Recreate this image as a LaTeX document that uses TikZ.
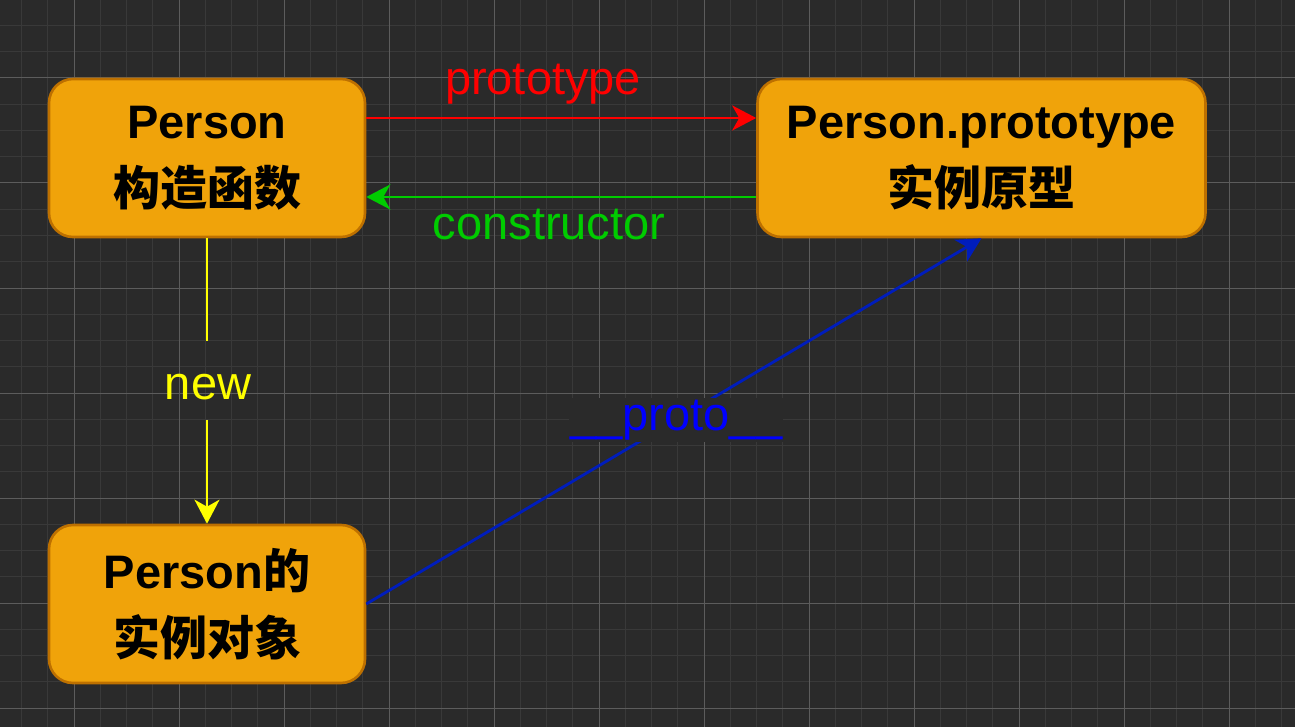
\documentclass[tikz,border=0pt]{standalone}
\usepackage{fontspec}
\setmainfont{Liberation Sans}
\newfontfamily\cjk{Noto Sans CJK SC}
\usetikzlibrary{arrows.meta}
\definecolor{bgc}{HTML}{2A2A2A}
\definecolor{gminor}{HTML}{393939}
\definecolor{gmajor}{HTML}{5C5C5C}
\definecolor{boxfill}{HTML}{F0A30A}
\definecolor{boxline}{HTML}{BD7000}
\definecolor{cred}{HTML}{FF0000}
\definecolor{cgreen}{HTML}{00CC00}
\definecolor{cyellow}{HTML}{FFFF00}
\definecolor{cblueline}{HTML}{001DBC}
\definecolor{cbluetext}{HTML}{0000FF}
\begin{document}
\begin{tikzpicture}[x=1pt,y=-1pt,
  box/.style={rectangle, rounded corners=24pt, draw=boxline, fill=boxfill,
    line width=2.6pt, minimum height=158pt, align=center, inner sep=0pt,
    text=black, font=\fontsize{47}{67}\selectfont\bfseries},
  conn/.style={line width=2.8pt},
  tipend/.style={-{Stealth[length=24pt,width=25pt,inset=7pt]}},
  lbl/.style={inner sep=0pt, font=\fontsize{47}{56}\selectfont},
  gridminor/.style={draw=gminor, line width=1pt},
  gridmajor/.style={draw=gmajor, line width=1pt},
]
\useasboundingbox (0,0) rectangle (1295,727);
\fill[bgc] (0,0) rectangle (1295,727);
% grid
\foreach \i in {0,...,48} {\draw[gridminor] ({21.5+26.25*\i},0) -- ({21.5+26.25*\i},727);}
\foreach \i in {0,...,27} {\draw[gridminor] (0,{-0.75+26.25*\i}) -- (1295,{-0.75+26.25*\i});}
\foreach \i in {0,...,11} {\draw[gridmajor] ({74+105*\i},0) -- ({74+105*\i},727);}
\foreach \i in {0,...,6} {\draw[gridmajor] (0,{78+105*\i}) -- (1295,{78+105*\i});}

% nodes
\node[box, minimum width=316pt] (A) at (207,158) {Person\\{\cjk 构造函数}};
\node[box, minimum width=448pt] (B) at (981.5,158) {Person.prototype\\{\cjk 实例原型}};
\node[box, minimum width=316pt] (C) at (207,604) {Person{\cjk 的}\\{\cjk 实例对象}};

% prototype (red)
\draw[conn, tipend, draw=cred, fill=cred] ([yshift=40pt]A.east) -- ([yshift=40pt]B.west);
\node[lbl, text=cred, anchor=base] (lproto) at (543,95) {prototype};

% constructor (green)
\draw[conn, tipend, draw=cgreen, fill=cgreen] ([yshift=-39pt]B.west) -- ([yshift=-39pt]A.east);
\node[lbl, text=cgreen, anchor=base] (lcons) at (549,240) {constructor};

% new (yellow)
\coordinate (newtop) at (207,341);
\coordinate (newbot) at (207,420);
\draw[conn, draw=cyellow] (A.south) -- (newtop);
\draw[conn, tipend, draw=cyellow, fill=cyellow] (newbot) -- (C.north);
\node[lbl, text=cyellow, anchor=base] (lnew) at (208,399) {new};

% __proto__ (blue)
\draw[conn, tipend, draw=cblueline, fill=cblueline] (C.east) -- (B.south)
  node[pos=0.504, lbl, fill=bgc, text=cbluetext, minimum width=214pt,
       text height=33pt, text depth=11pt] (l__proto) {\_\_proto\_\_};
\end{tikzpicture}
\end{document}
